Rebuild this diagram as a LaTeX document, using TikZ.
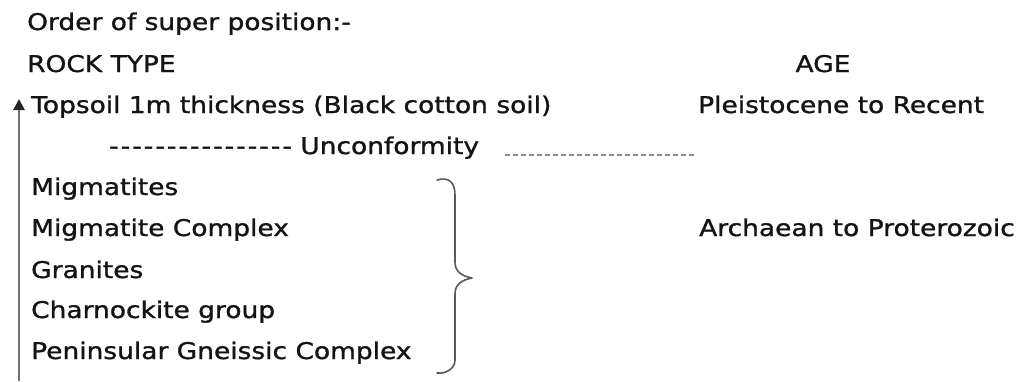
\documentclass[tikz,border=0pt]{standalone}
\usepackage{fontspec}
\newfontfamily\dv{DejaVu Sans}[FakeBold=1.2,FakeStretch=1.15]
\usetikzlibrary{arrows.meta}
\definecolor{txt}{RGB}{20,20,20}
\newcommand\hyp{-\kern2.0pt}
\tikzset{
  lbl/.style={anchor=base west, inner sep=0pt, font=\dv\fontsize{23}{28}\selectfont, text=txt},
  lblc/.style={lbl, anchor=base},
  axis/.style={draw=black!55, line width=2.8pt, -{Triangle[length=11pt,width=11pt,color=black!85]}},
  bracestyle/.style={draw=black!65, line width=1.6pt, line cap=round, line join=round},
  unc/.style={draw=black!45, line width=2.2pt, dash pattern=on 5pt off 3pt}
}
\begin{document}
\begin{tikzpicture}[x=1pt,y=-1pt]
\useasboundingbox (0,0) rectangle (1021,381);
\node[lbl] (title) at (27,30) {Order of super position:-};
\node[lbl] (rock) at (27,72) {ROCK TYPE};
\node[lblc] (age) at (823,72) {AGE};
\node[lbl] (top) at (31,113) {Topsoil 1m thickness (Black cotton soil)};
\node[lbl] (pleist) at (698,113) {Pleistocene to Recent};
\node[lbl] (uncf) at (109,154) {\hyp\hyp\hyp\hyp\hyp\hyp\hyp\hyp\hyp\hyp\hyp\hyp\hyp\hyp\hyp- Unconformity};
\node[lbl] (mig) at (31,195) {Migmatites};
\node[lbl] (migc) at (31,236) {Migmatite Complex};
\node[lbl] (arch) at (699,236) {Archaean to Proterozoic};
\node[lbl] (gran) at (31,278) {Granites};
\node[lbl] (char) at (31,318) {Charnockite group};
\node[lbl] (pen) at (31,359) {Peninsular Gneissic Complex};
% unconformity continuation
\coordinate (u1) at (505,155);
\coordinate (u2) at (695,155);
\draw[unc] (u1) -- (u2);
% arrow
\coordinate (abot) at (19,381);
\coordinate (atop) at (19,99);
\draw[axis] (abot) -- (atop);
% brace
\coordinate (b1) at (437,180);
\coordinate (b2) at (455,195);
\coordinate (btip) at (472,278);
\coordinate (b3) at (455,360);
\coordinate (b4) at (437,373);
\draw[bracestyle] (b1) .. controls (450,176) and (455,184) .. (b2)
  -- (455,262) .. controls (455,272) and (462,276) .. (btip)
  .. controls (462,280) and (455,284) .. (455,294)
  -- (b3) .. controls (455,368) and (447,374) .. (b4);
\end{tikzpicture}
\end{document}
